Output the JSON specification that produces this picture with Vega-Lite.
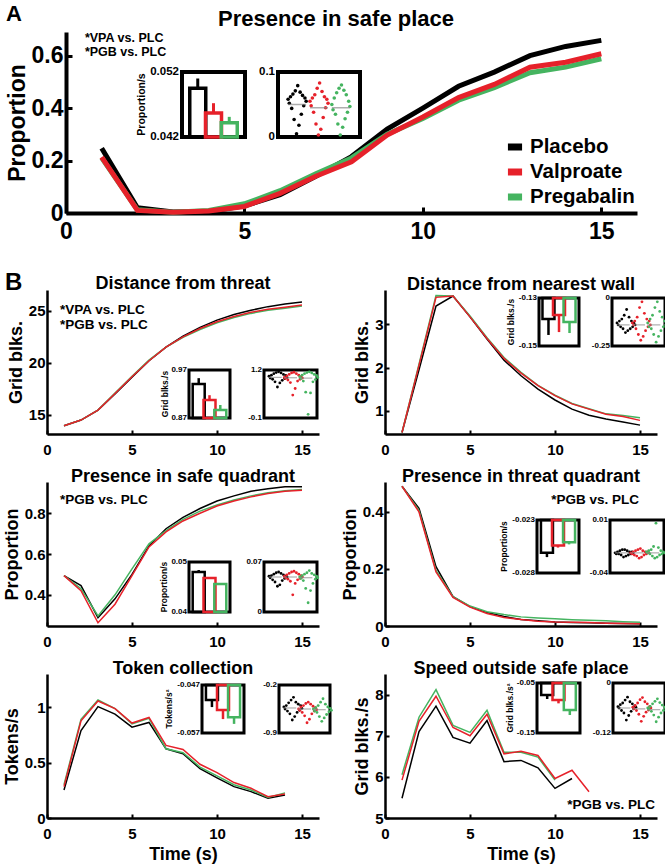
{
"$schema": "https://vega.github.io/schema/vega-lite/v6.json",
"background": "white",
"padding": {"left": 3, "top": 2, "right": 2, "bottom": 5},
"config": {
 "font": "Liberation Sans",
 "view": {"stroke": null},
 "axis": {"grid": false, "domainColor": "black", "domainWidth": 2.5, "tickColor": "black", "tickWidth": 2, "tickSize": -4, "labelColor": "black", "labelFontSize": 15, "labelFontWeight": "bold", "labelFlush": false, "labelOverlap": false, "titleColor": "black", "titleFontSize": 18, "titleFontWeight": "bold"},
 "axisX": {"labelPadding": 12.5, "titlePadding": 4},
 "axisY": {"labelPadding": 6, "titlePadding": 3},
 "title": {"fontSize": 18, "fontWeight": "bold", "color": "black", "offset": -4},
 "text": {"color": "black", "fontWeight": "bold"}
},
"datasets": {
 "lines": [
  {"p":"A","g":"Placebo","t":1,"v":0.247},{"p":"A","g":"Placebo","t":2,"v":0.02},{"p":"A","g":"Placebo","t":3,"v":0.004},{"p":"A","g":"Placebo","t":4,"v":0.006},{"p":"A","g":"Placebo","t":5,"v":0.027},{"p":"A","g":"Placebo","t":6,"v":0.07},{"p":"A","g":"Placebo","t":7,"v":0.14},{"p":"A","g":"Placebo","t":8,"v":0.215},{"p":"A","g":"Placebo","t":9,"v":0.32},{"p":"A","g":"Placebo","t":10,"v":0.4},{"p":"A","g":"Placebo","t":11,"v":0.483},{"p":"A","g":"Placebo","t":12,"v":0.537},{"p":"A","g":"Placebo","t":13,"v":0.6},{"p":"A","g":"Placebo","t":14,"v":0.635},{"p":"A","g":"Placebo","t":15,"v":0.658},
  {"p":"A","g":"Pregabalin","t":1,"v":0.21},{"p":"A","g":"Pregabalin","t":2,"v":0.012},{"p":"A","g":"Pregabalin","t":3,"v":0.003},{"p":"A","g":"Pregabalin","t":4,"v":0.01},{"p":"A","g":"Pregabalin","t":5,"v":0.035},{"p":"A","g":"Pregabalin","t":6,"v":0.085},{"p":"A","g":"Pregabalin","t":7,"v":0.15},{"p":"A","g":"Pregabalin","t":8,"v":0.21},{"p":"A","g":"Pregabalin","t":9,"v":0.3},{"p":"A","g":"Pregabalin","t":10,"v":0.36},{"p":"A","g":"Pregabalin","t":11,"v":0.43},{"p":"A","g":"Pregabalin","t":12,"v":0.478},{"p":"A","g":"Pregabalin","t":13,"v":0.535},{"p":"A","g":"Pregabalin","t":14,"v":0.556},{"p":"A","g":"Pregabalin","t":15,"v":0.588},
  {"p":"A","g":"Valproate","t":1,"v":0.213},{"p":"A","g":"Valproate","t":2,"v":0.01},{"p":"A","g":"Valproate","t":3,"v":0.003},{"p":"A","g":"Valproate","t":4,"v":0.008},{"p":"A","g":"Valproate","t":5,"v":0.025},{"p":"A","g":"Valproate","t":6,"v":0.075},{"p":"A","g":"Valproate","t":7,"v":0.14},{"p":"A","g":"Valproate","t":8,"v":0.195},{"p":"A","g":"Valproate","t":9,"v":0.297},{"p":"A","g":"Valproate","t":10,"v":0.366},{"p":"A","g":"Valproate","t":11,"v":0.44},{"p":"A","g":"Valproate","t":12,"v":0.49},{"p":"A","g":"Valproate","t":13,"v":0.556},{"p":"A","g":"Valproate","t":14,"v":0.575},{"p":"A","g":"Valproate","t":15,"v":0.607},
  {"p":"dt","g":"Placebo","t":1,"v":13.94},{"p":"dt","g":"Placebo","t":2,"v":14.49},{"p":"dt","g":"Placebo","t":3,"v":15.45},{"p":"dt","g":"Placebo","t":4,"v":17.0},{"p":"dt","g":"Placebo","t":5,"v":18.6},{"p":"dt","g":"Placebo","t":6,"v":20.2},{"p":"dt","g":"Placebo","t":7,"v":21.5},{"p":"dt","g":"Placebo","t":8,"v":22.55},{"p":"dt","g":"Placebo","t":9,"v":23.4},{"p":"dt","g":"Placebo","t":10,"v":24.1},{"p":"dt","g":"Placebo","t":11,"v":24.65},{"p":"dt","g":"Placebo","t":12,"v":25.05},{"p":"dt","g":"Placebo","t":13,"v":25.4},{"p":"dt","g":"Placebo","t":14,"v":25.65},{"p":"dt","g":"Placebo","t":15,"v":25.85},
  {"p":"dt","g":"Pregabalin","t":1,"v":13.94},{"p":"dt","g":"Pregabalin","t":2,"v":14.49},{"p":"dt","g":"Pregabalin","t":3,"v":15.45},{"p":"dt","g":"Pregabalin","t":4,"v":17.1},{"p":"dt","g":"Pregabalin","t":5,"v":18.7},{"p":"dt","g":"Pregabalin","t":6,"v":20.25},{"p":"dt","g":"Pregabalin","t":7,"v":21.5},{"p":"dt","g":"Pregabalin","t":8,"v":22.45},{"p":"dt","g":"Pregabalin","t":9,"v":23.2},{"p":"dt","g":"Pregabalin","t":10,"v":23.85},{"p":"dt","g":"Pregabalin","t":11,"v":24.35},{"p":"dt","g":"Pregabalin","t":12,"v":24.75},{"p":"dt","g":"Pregabalin","t":13,"v":25.05},{"p":"dt","g":"Pregabalin","t":14,"v":25.25},{"p":"dt","g":"Pregabalin","t":15,"v":25.45},
  {"p":"dt","g":"Valproate","t":1,"v":13.94},{"p":"dt","g":"Valproate","t":2,"v":14.49},{"p":"dt","g":"Valproate","t":3,"v":15.45},{"p":"dt","g":"Valproate","t":4,"v":17.05},{"p":"dt","g":"Valproate","t":5,"v":18.65},{"p":"dt","g":"Valproate","t":6,"v":20.2},{"p":"dt","g":"Valproate","t":7,"v":21.5},{"p":"dt","g":"Valproate","t":8,"v":22.5},{"p":"dt","g":"Valproate","t":9,"v":23.3},{"p":"dt","g":"Valproate","t":10,"v":23.95},{"p":"dt","g":"Valproate","t":11,"v":24.45},{"p":"dt","g":"Valproate","t":12,"v":24.85},{"p":"dt","g":"Valproate","t":13,"v":25.15},{"p":"dt","g":"Valproate","t":14,"v":25.35},{"p":"dt","g":"Valproate","t":15,"v":25.55},
  {"p":"nw","g":"Placebo","t":1,"v":0.5},{"p":"nw","g":"Placebo","t":2,"v":1.95},{"p":"nw","g":"Placebo","t":3,"v":3.42},{"p":"nw","g":"Placebo","t":4,"v":3.65},{"p":"nw","g":"Placebo","t":5,"v":3.17},{"p":"nw","g":"Placebo","t":6,"v":2.66},{"p":"nw","g":"Placebo","t":7,"v":2.17},{"p":"nw","g":"Placebo","t":8,"v":1.81},{"p":"nw","g":"Placebo","t":9,"v":1.5},{"p":"nw","g":"Placebo","t":10,"v":1.25},{"p":"nw","g":"Placebo","t":11,"v":1.04},{"p":"nw","g":"Placebo","t":12,"v":0.9},{"p":"nw","g":"Placebo","t":13,"v":0.81},{"p":"nw","g":"Placebo","t":14,"v":0.74},{"p":"nw","g":"Placebo","t":15,"v":0.67},
  {"p":"nw","g":"Pregabalin","t":1,"v":0.5},{"p":"nw","g":"Pregabalin","t":2,"v":2.08},{"p":"nw","g":"Pregabalin","t":3,"v":3.66},{"p":"nw","g":"Pregabalin","t":4,"v":3.65},{"p":"nw","g":"Pregabalin","t":5,"v":3.19},{"p":"nw","g":"Pregabalin","t":6,"v":2.69},{"p":"nw","g":"Pregabalin","t":7,"v":2.23},{"p":"nw","g":"Pregabalin","t":8,"v":1.89},{"p":"nw","g":"Pregabalin","t":9,"v":1.59},{"p":"nw","g":"Pregabalin","t":10,"v":1.36},{"p":"nw","g":"Pregabalin","t":11,"v":1.17},{"p":"nw","g":"Pregabalin","t":12,"v":1.05},{"p":"nw","g":"Pregabalin","t":13,"v":0.93},{"p":"nw","g":"Pregabalin","t":14,"v":0.89},{"p":"nw","g":"Pregabalin","t":15,"v":0.84},
  {"p":"nw","g":"Valproate","t":1,"v":0.5},{"p":"nw","g":"Valproate","t":2,"v":2.05},{"p":"nw","g":"Valproate","t":3,"v":3.62},{"p":"nw","g":"Valproate","t":4,"v":3.65},{"p":"nw","g":"Valproate","t":5,"v":3.17},{"p":"nw","g":"Valproate","t":6,"v":2.67},{"p":"nw","g":"Valproate","t":7,"v":2.21},{"p":"nw","g":"Valproate","t":8,"v":1.87},{"p":"nw","g":"Valproate","t":9,"v":1.58},{"p":"nw","g":"Valproate","t":10,"v":1.35},{"p":"nw","g":"Valproate","t":11,"v":1.16},{"p":"nw","g":"Valproate","t":12,"v":1.04},{"p":"nw","g":"Valproate","t":13,"v":0.92},{"p":"nw","g":"Valproate","t":14,"v":0.87},{"p":"nw","g":"Valproate","t":15,"v":0.78},
  {"p":"sq","g":"Placebo","t":1,"v":0.494},{"p":"sq","g":"Placebo","t":2,"v":0.445},{"p":"sq","g":"Placebo","t":3,"v":0.288},{"p":"sq","g":"Placebo","t":4,"v":0.38},{"p":"sq","g":"Placebo","t":5,"v":0.5},{"p":"sq","g":"Placebo","t":6,"v":0.64},{"p":"sq","g":"Placebo","t":7,"v":0.724},{"p":"sq","g":"Placebo","t":8,"v":0.78},{"p":"sq","g":"Placebo","t":9,"v":0.823},{"p":"sq","g":"Placebo","t":10,"v":0.86},{"p":"sq","g":"Placebo","t":11,"v":0.885},{"p":"sq","g":"Placebo","t":12,"v":0.908},{"p":"sq","g":"Placebo","t":13,"v":0.92},{"p":"sq","g":"Placebo","t":14,"v":0.93},{"p":"sq","g":"Placebo","t":15,"v":0.93},
  {"p":"sq","g":"Pregabalin","t":1,"v":0.494},{"p":"sq","g":"Pregabalin","t":2,"v":0.43},{"p":"sq","g":"Pregabalin","t":3,"v":0.296},{"p":"sq","g":"Pregabalin","t":4,"v":0.4},{"p":"sq","g":"Pregabalin","t":5,"v":0.527},{"p":"sq","g":"Pregabalin","t":6,"v":0.65},{"p":"sq","g":"Pregabalin","t":7,"v":0.715},{"p":"sq","g":"Pregabalin","t":8,"v":0.77},{"p":"sq","g":"Pregabalin","t":9,"v":0.81},{"p":"sq","g":"Pregabalin","t":10,"v":0.84},{"p":"sq","g":"Pregabalin","t":11,"v":0.865},{"p":"sq","g":"Pregabalin","t":12,"v":0.885},{"p":"sq","g":"Pregabalin","t":13,"v":0.9},{"p":"sq","g":"Pregabalin","t":14,"v":0.91},{"p":"sq","g":"Pregabalin","t":15,"v":0.916},
  {"p":"sq","g":"Valproate","t":1,"v":0.494},{"p":"sq","g":"Valproate","t":2,"v":0.42},{"p":"sq","g":"Valproate","t":3,"v":0.263},{"p":"sq","g":"Valproate","t":4,"v":0.354},{"p":"sq","g":"Valproate","t":5,"v":0.494},{"p":"sq","g":"Valproate","t":6,"v":0.635},{"p":"sq","g":"Valproate","t":7,"v":0.708},{"p":"sq","g":"Valproate","t":8,"v":0.762},{"p":"sq","g":"Valproate","t":9,"v":0.8},{"p":"sq","g":"Valproate","t":10,"v":0.835},{"p":"sq","g":"Valproate","t":11,"v":0.86},{"p":"sq","g":"Valproate","t":12,"v":0.88},{"p":"sq","g":"Valproate","t":13,"v":0.897},{"p":"sq","g":"Valproate","t":14,"v":0.908},{"p":"sq","g":"Valproate","t":15,"v":0.913},
  {"p":"tq","g":"Placebo","t":1,"v":0.49},{"p":"tq","g":"Placebo","t":2,"v":0.413},{"p":"tq","g":"Placebo","t":3,"v":0.208},{"p":"tq","g":"Placebo","t":4,"v":0.103},{"p":"tq","g":"Placebo","t":5,"v":0.068},{"p":"tq","g":"Placebo","t":6,"v":0.047},{"p":"tq","g":"Placebo","t":7,"v":0.033},{"p":"tq","g":"Placebo","t":8,"v":0.023},{"p":"tq","g":"Placebo","t":9,"v":0.018},{"p":"tq","g":"Placebo","t":10,"v":0.014},{"p":"tq","g":"Placebo","t":11,"v":0.012},{"p":"tq","g":"Placebo","t":12,"v":0.011},{"p":"tq","g":"Placebo","t":13,"v":0.01},{"p":"tq","g":"Placebo","t":14,"v":0.009},{"p":"tq","g":"Placebo","t":15,"v":0.008},
  {"p":"tq","g":"Pregabalin","t":1,"v":0.49},{"p":"tq","g":"Pregabalin","t":2,"v":0.405},{"p":"tq","g":"Pregabalin","t":3,"v":0.195},{"p":"tq","g":"Pregabalin","t":4,"v":0.103},{"p":"tq","g":"Pregabalin","t":5,"v":0.07},{"p":"tq","g":"Pregabalin","t":6,"v":0.05},{"p":"tq","g":"Pregabalin","t":7,"v":0.04},{"p":"tq","g":"Pregabalin","t":8,"v":0.032},{"p":"tq","g":"Pregabalin","t":9,"v":0.028},{"p":"tq","g":"Pregabalin","t":10,"v":0.025},{"p":"tq","g":"Pregabalin","t":11,"v":0.022},{"p":"tq","g":"Pregabalin","t":12,"v":0.02},{"p":"tq","g":"Pregabalin","t":13,"v":0.018},{"p":"tq","g":"Pregabalin","t":14,"v":0.015},{"p":"tq","g":"Pregabalin","t":15,"v":0.013},
  {"p":"tq","g":"Valproate","t":1,"v":0.49},{"p":"tq","g":"Valproate","t":2,"v":0.4},{"p":"tq","g":"Valproate","t":3,"v":0.19},{"p":"tq","g":"Valproate","t":4,"v":0.1},{"p":"tq","g":"Valproate","t":5,"v":0.066},{"p":"tq","g":"Valproate","t":6,"v":0.044},{"p":"tq","g":"Valproate","t":7,"v":0.03},{"p":"tq","g":"Valproate","t":8,"v":0.023},{"p":"tq","g":"Valproate","t":9,"v":0.017},{"p":"tq","g":"Valproate","t":10,"v":0.014},{"p":"tq","g":"Valproate","t":11,"v":0.013},{"p":"tq","g":"Valproate","t":12,"v":0.012},{"p":"tq","g":"Valproate","t":13,"v":0.01},{"p":"tq","g":"Valproate","t":14,"v":0.009},{"p":"tq","g":"Valproate","t":15,"v":0.008},
  {"p":"tk","g":"Placebo","t":1,"v":0.253},{"p":"tk","g":"Placebo","t":2,"v":0.79},{"p":"tk","g":"Placebo","t":3,"v":1.006},{"p":"tk","g":"Placebo","t":4,"v":0.938},{"p":"tk","g":"Placebo","t":5,"v":0.82},{"p":"tk","g":"Placebo","t":6,"v":0.863},{"p":"tk","g":"Placebo","t":7,"v":0.625},{"p":"tk","g":"Placebo","t":8,"v":0.58},{"p":"tk","g":"Placebo","t":9,"v":0.446},{"p":"tk","g":"Placebo","t":10,"v":0.363},{"p":"tk","g":"Placebo","t":11,"v":0.283},{"p":"tk","g":"Placebo","t":12,"v":0.238},{"p":"tk","g":"Placebo","t":13,"v":0.178},{"p":"tk","g":"Placebo","t":14,"v":0.208},
  {"p":"tk","g":"Pregabalin","t":1,"v":0.3},{"p":"tk","g":"Pregabalin","t":2,"v":0.89},{"p":"tk","g":"Pregabalin","t":3,"v":1.065},{"p":"tk","g":"Pregabalin","t":4,"v":0.988},{"p":"tk","g":"Pregabalin","t":5,"v":0.85},{"p":"tk","g":"Pregabalin","t":6,"v":0.9},{"p":"tk","g":"Pregabalin","t":7,"v":0.625},{"p":"tk","g":"Pregabalin","t":8,"v":0.59},{"p":"tk","g":"Pregabalin","t":9,"v":0.46},{"p":"tk","g":"Pregabalin","t":10,"v":0.38},{"p":"tk","g":"Pregabalin","t":11,"v":0.3},{"p":"tk","g":"Pregabalin","t":12,"v":0.253},{"p":"tk","g":"Pregabalin","t":13,"v":0.186},{"p":"tk","g":"Pregabalin","t":14,"v":0.227},
  {"p":"tk","g":"Valproate","t":1,"v":0.283},{"p":"tk","g":"Valproate","t":2,"v":0.878},{"p":"tk","g":"Valproate","t":3,"v":1.056},{"p":"tk","g":"Valproate","t":4,"v":0.988},{"p":"tk","g":"Valproate","t":5,"v":0.857},{"p":"tk","g":"Valproate","t":6,"v":0.908},{"p":"tk","g":"Valproate","t":7,"v":0.655},{"p":"tk","g":"Valproate","t":8,"v":0.619},{"p":"tk","g":"Valproate","t":9,"v":0.485},{"p":"tk","g":"Valproate","t":10,"v":0.41},{"p":"tk","g":"Valproate","t":11,"v":0.32},{"p":"tk","g":"Valproate","t":12,"v":0.268},{"p":"tk","g":"Valproate","t":13,"v":0.193},{"p":"tk","g":"Valproate","t":14,"v":0.217},
  {"p":"sp","g":"Placebo","t":1,"v":5.48},{"p":"sp","g":"Placebo","t":2,"v":7.1},{"p":"sp","g":"Placebo","t":3,"v":7.72},{"p":"sp","g":"Placebo","t":4,"v":6.96},{"p":"sp","g":"Placebo","t":5,"v":6.82},{"p":"sp","g":"Placebo","t":6,"v":7.37},{"p":"sp","g":"Placebo","t":7,"v":6.37},{"p":"sp","g":"Placebo","t":8,"v":6.4},{"p":"sp","g":"Placebo","t":9,"v":6.22},{"p":"sp","g":"Placebo","t":10,"v":5.72},{"p":"sp","g":"Placebo","t":11,"v":5.96},
  {"p":"sp","g":"Pregabalin","t":1,"v":6.05},{"p":"sp","g":"Pregabalin","t":2,"v":7.45},{"p":"sp","g":"Pregabalin","t":3,"v":8.12},{"p":"sp","g":"Pregabalin","t":4,"v":7.25},{"p":"sp","g":"Pregabalin","t":5,"v":7.08},{"p":"sp","g":"Pregabalin","t":6,"v":7.62},{"p":"sp","g":"Pregabalin","t":7,"v":6.6},{"p":"sp","g":"Pregabalin","t":8,"v":6.6},{"p":"sp","g":"Pregabalin","t":9,"v":6.48},{"p":"sp","g":"Pregabalin","t":10,"v":5.92},
  {"p":"sp","g":"Valproate","t":1,"v":5.92},{"p":"sp","g":"Valproate","t":2,"v":7.35},{"p":"sp","g":"Valproate","t":3,"v":7.96},{"p":"sp","g":"Valproate","t":4,"v":7.2},{"p":"sp","g":"Valproate","t":5,"v":7.0},{"p":"sp","g":"Valproate","t":6,"v":7.52},{"p":"sp","g":"Valproate","t":7,"v":6.56},{"p":"sp","g":"Valproate","t":8,"v":6.62},{"p":"sp","g":"Valproate","t":9,"v":6.52},{"p":"sp","g":"Valproate","t":10,"v":5.96},{"p":"sp","g":"Valproate","t":11,"v":6.16},{"p":"sp","g":"Valproate","t":12,"v":5.64}
 ],
 "bars": [
  {"p":"A","g":"Placebo","k":1,"v":0.0495,"e":0.051},{"p":"A","g":"Valproate","k":2,"v":0.0457,"e":0.0472},{"p":"A","g":"Pregabalin","k":3,"v":0.0442,"e":0.0451},
  {"p":"dt","g":"Placebo","k":1,"v":0.9408,"e":0.953},{"p":"dt","g":"Valproate","k":2,"v":0.9075,"e":0.9175},{"p":"dt","g":"Pregabalin","k":3,"v":0.8867,"e":0.8971},
  {"p":"nw","g":"Placebo","k":1,"v":-0.1388,"e":-0.1454},{"p":"nw","g":"Valproate","k":2,"v":-0.1371,"e":-0.1442},{"p":"nw","g":"Pregabalin","k":3,"v":-0.14,"e":-0.1446},
  {"p":"sq","g":"Placebo","k":1,"v":0.048,"e":0.0484},{"p":"sq","g":"Valproate","k":2,"v":0.0468,"e":0.047},{"p":"sq","g":"Pregabalin","k":3,"v":0.0456,"e":0.0458},
  {"p":"tq","g":"Placebo","k":1,"v":-0.0261,"e":-0.0265},{"p":"tq","g":"Valproate","k":2,"v":-0.0254,"e":-0.0256},{"p":"tq","g":"Pregabalin","k":3,"v":-0.0251,"e":-0.0253},
  {"p":"tk","g":"Placebo","k":1,"v":-0.0501,"e":-0.0516},{"p":"tk","g":"Valproate","k":2,"v":-0.0522,"e":-0.0541},{"p":"tk","g":"Pregabalin","k":3,"v":-0.0537,"e":-0.0551},
  {"p":"sp","g":"Placebo","k":1,"v":-0.074,"e":-0.082},{"p":"sp","g":"Valproate","k":2,"v":-0.084,"e":-0.0907},{"p":"sp","g":"Pregabalin","k":3,"v":-0.104,"e":-0.114}
 ],
 "means": [
  {"p":"A","g":"Placebo","m":0.05},{"p":"A","g":"Valproate","m":0.045},{"p":"A","g":"Pregabalin","m":0.045},
  {"p":"dt","g":"Placebo","m":1.0},{"p":"dt","g":"Valproate","m":0.99},{"p":"dt","g":"Pregabalin","m":0.98},
  {"p":"nw","g":"Placebo","m":-0.14},{"p":"nw","g":"Valproate","m":-0.14},{"p":"nw","g":"Pregabalin","m":-0.14},
  {"p":"sq","g":"Placebo","m":0.049},{"p":"sq","g":"Valproate","m":0.049},{"p":"sq","g":"Pregabalin","m":0.048},
  {"p":"tq","g":"Placebo","m":-0.021},{"p":"tq","g":"Valproate","m":-0.021},{"p":"tq","g":"Pregabalin","m":-0.021},
  {"p":"tk","g":"Placebo","m":-0.535},{"p":"tk","g":"Valproate","m":-0.55},{"p":"tk","g":"Pregabalin","m":-0.56},
  {"p":"sp","g":"Placebo","m":-0.06},{"p":"sp","g":"Valproate","m":-0.062},{"p":"sp","g":"Pregabalin","m":-0.064}
 ],
 "pts": [
  {"p":"A","g":"Placebo","i":1,"v":0.058},{"p":"A","g":"Placebo","i":2,"v":0.052},{"p":"A","g":"Placebo","i":3,"v":0.062},{"p":"A","g":"Placebo","i":4,"v":0.044},{"p":"A","g":"Placebo","i":5,"v":0.066},{"p":"A","g":"Placebo","i":6,"v":0.027},{"p":"A","g":"Placebo","i":7,"v":0.071},{"p":"A","g":"Placebo","i":8,"v":0.005},{"p":"A","g":"Placebo","i":9,"v":0.079},{"p":"A","g":"Placebo","i":10,"v":0.018},{"p":"A","g":"Placebo","i":11,"v":0.069},{"p":"A","g":"Placebo","i":12,"v":0.035},{"p":"A","g":"Placebo","i":13,"v":0.064},{"p":"A","g":"Placebo","i":14,"v":0.048},{"p":"A","g":"Placebo","i":15,"v":0.06},{"p":"A","g":"Placebo","i":16,"v":0.055},
  {"p":"A","g":"Valproate","i":1,"v":0.055},{"p":"A","g":"Valproate","i":2,"v":0.048},{"p":"A","g":"Valproate","i":3,"v":0.06},{"p":"A","g":"Valproate","i":4,"v":0.038},{"p":"A","g":"Valproate","i":5,"v":0.065},{"p":"A","g":"Valproate","i":6,"v":0.02},{"p":"A","g":"Valproate","i":7,"v":0.075},{"p":"A","g":"Valproate","i":8,"v":0.003},{"p":"A","g":"Valproate","i":9,"v":0.083},{"p":"A","g":"Valproate","i":10,"v":0.012},{"p":"A","g":"Valproate","i":11,"v":0.07},{"p":"A","g":"Valproate","i":12,"v":0.03},{"p":"A","g":"Valproate","i":13,"v":0.062},{"p":"A","g":"Valproate","i":14,"v":0.045},{"p":"A","g":"Valproate","i":15,"v":0.058},{"p":"A","g":"Valproate","i":16,"v":0.052},
  {"p":"A","g":"Pregabalin","i":1,"v":0.05},{"p":"A","g":"Pregabalin","i":2,"v":0.042},{"p":"A","g":"Pregabalin","i":3,"v":0.06},{"p":"A","g":"Pregabalin","i":4,"v":0.035},{"p":"A","g":"Pregabalin","i":5,"v":0.068},{"p":"A","g":"Pregabalin","i":6,"v":0.02},{"p":"A","g":"Pregabalin","i":7,"v":0.075},{"p":"A","g":"Pregabalin","i":8,"v":0.003},{"p":"A","g":"Pregabalin","i":9,"v":0.08},{"p":"A","g":"Pregabalin","i":10,"v":0.015},{"p":"A","g":"Pregabalin","i":11,"v":0.072},{"p":"A","g":"Pregabalin","i":12,"v":0.028},{"p":"A","g":"Pregabalin","i":13,"v":0.065},{"p":"A","g":"Pregabalin","i":14,"v":0.038},{"p":"A","g":"Pregabalin","i":15,"v":0.055},{"p":"A","g":"Pregabalin","i":16,"v":0.047},
  {"p":"dt","g":"Placebo","i":1,"v":1.03},{"p":"dt","g":"Placebo","i":2,"v":0.98},{"p":"dt","g":"Placebo","i":3,"v":1.06},{"p":"dt","g":"Placebo","i":4,"v":0.95},{"p":"dt","g":"Placebo","i":5,"v":1.1},{"p":"dt","g":"Placebo","i":6,"v":0.88},{"p":"dt","g":"Placebo","i":7,"v":1.13},{"p":"dt","g":"Placebo","i":8,"v":0.74},{"p":"dt","g":"Placebo","i":9,"v":1.15},{"p":"dt","g":"Placebo","i":10,"v":0.85},{"p":"dt","g":"Placebo","i":11,"v":1.12},{"p":"dt","g":"Placebo","i":12,"v":0.92},{"p":"dt","g":"Placebo","i":13,"v":1.08},{"p":"dt","g":"Placebo","i":14,"v":0.97},{"p":"dt","g":"Placebo","i":15,"v":1.05},{"p":"dt","g":"Placebo","i":16,"v":1.0},
  {"p":"dt","g":"Valproate","i":1,"v":1.0},{"p":"dt","g":"Valproate","i":2,"v":0.97},{"p":"dt","g":"Valproate","i":3,"v":1.04},{"p":"dt","g":"Valproate","i":4,"v":0.93},{"p":"dt","g":"Valproate","i":5,"v":1.08},{"p":"dt","g":"Valproate","i":6,"v":0.86},{"p":"dt","g":"Valproate","i":7,"v":1.12},{"p":"dt","g":"Valproate","i":8,"v":0.52},{"p":"dt","g":"Valproate","i":9,"v":1.14},{"p":"dt","g":"Valproate","i":10,"v":0.7},{"p":"dt","g":"Valproate","i":11,"v":1.1},{"p":"dt","g":"Valproate","i":12,"v":0.9},{"p":"dt","g":"Valproate","i":13,"v":1.06},{"p":"dt","g":"Valproate","i":14,"v":0.95},{"p":"dt","g":"Valproate","i":15,"v":1.02},{"p":"dt","g":"Valproate","i":16,"v":0.98},
  {"p":"dt","g":"Pregabalin","i":1,"v":1.02},{"p":"dt","g":"Pregabalin","i":2,"v":0.97},{"p":"dt","g":"Pregabalin","i":3,"v":1.06},{"p":"dt","g":"Pregabalin","i":4,"v":0.9},{"p":"dt","g":"Pregabalin","i":5,"v":1.1},{"p":"dt","g":"Pregabalin","i":6,"v":0.6},{"p":"dt","g":"Pregabalin","i":7,"v":1.13},{"p":"dt","g":"Pregabalin","i":8,"v":0.0},{"p":"dt","g":"Pregabalin","i":9,"v":1.15},{"p":"dt","g":"Pregabalin","i":10,"v":0.58},{"p":"dt","g":"Pregabalin","i":11,"v":1.12},{"p":"dt","g":"Pregabalin","i":12,"v":0.88},{"p":"dt","g":"Pregabalin","i":13,"v":1.08},{"p":"dt","g":"Pregabalin","i":14,"v":0.94},{"p":"dt","g":"Pregabalin","i":15,"v":1.05},{"p":"dt","g":"Pregabalin","i":16,"v":1.0},
  {"p":"nw","g":"Placebo","i":1,"v":-0.13},{"p":"nw","g":"Placebo","i":2,"v":-0.14},{"p":"nw","g":"Placebo","i":3,"v":-0.12},{"p":"nw","g":"Placebo","i":4,"v":-0.15},{"p":"nw","g":"Placebo","i":5,"v":-0.11},{"p":"nw","g":"Placebo","i":6,"v":-0.16},{"p":"nw","g":"Placebo","i":7,"v":-0.09},{"p":"nw","g":"Placebo","i":8,"v":-0.18},{"p":"nw","g":"Placebo","i":9,"v":-0.06},{"p":"nw","g":"Placebo","i":10,"v":-0.17},{"p":"nw","g":"Placebo","i":11,"v":-0.1},{"p":"nw","g":"Placebo","i":12,"v":-0.16},{"p":"nw","g":"Placebo","i":13,"v":-0.12},{"p":"nw","g":"Placebo","i":14,"v":-0.15},{"p":"nw","g":"Placebo","i":15,"v":-0.13},{"p":"nw","g":"Placebo","i":16,"v":-0.14},
  {"p":"nw","g":"Valproate","i":1,"v":-0.13},{"p":"nw","g":"Valproate","i":2,"v":-0.14},{"p":"nw","g":"Valproate","i":3,"v":-0.12},{"p":"nw","g":"Valproate","i":4,"v":-0.16},{"p":"nw","g":"Valproate","i":5,"v":-0.1},{"p":"nw","g":"Valproate","i":6,"v":-0.19},{"p":"nw","g":"Valproate","i":7,"v":-0.05},{"p":"nw","g":"Valproate","i":8,"v":-0.22},{"p":"nw","g":"Valproate","i":9,"v":-0.02},{"p":"nw","g":"Valproate","i":10,"v":-0.2},{"p":"nw","g":"Valproate","i":11,"v":-0.08},{"p":"nw","g":"Valproate","i":12,"v":-0.17},{"p":"nw","g":"Valproate","i":13,"v":-0.11},{"p":"nw","g":"Valproate","i":14,"v":-0.15},{"p":"nw","g":"Valproate","i":15,"v":-0.12},{"p":"nw","g":"Valproate","i":16,"v":-0.14},
  {"p":"nw","g":"Pregabalin","i":1,"v":-0.13},{"p":"nw","g":"Pregabalin","i":2,"v":-0.15},{"p":"nw","g":"Pregabalin","i":3,"v":-0.11},{"p":"nw","g":"Pregabalin","i":4,"v":-0.16},{"p":"nw","g":"Pregabalin","i":5,"v":-0.09},{"p":"nw","g":"Pregabalin","i":6,"v":-0.19},{"p":"nw","g":"Pregabalin","i":7,"v":-0.05},{"p":"nw","g":"Pregabalin","i":8,"v":-0.23},{"p":"nw","g":"Pregabalin","i":9,"v":-0.02},{"p":"nw","g":"Pregabalin","i":10,"v":-0.2},{"p":"nw","g":"Pregabalin","i":11,"v":-0.07},{"p":"nw","g":"Pregabalin","i":12,"v":-0.17},{"p":"nw","g":"Pregabalin","i":13,"v":-0.1},{"p":"nw","g":"Pregabalin","i":14,"v":-0.15},{"p":"nw","g":"Pregabalin","i":15,"v":-0.12},{"p":"nw","g":"Pregabalin","i":16,"v":-0.14},
  {"p":"sq","g":"Placebo","i":1,"v":0.05},{"p":"sq","g":"Placebo","i":2,"v":0.048},{"p":"sq","g":"Placebo","i":3,"v":0.051},{"p":"sq","g":"Placebo","i":4,"v":0.045},{"p":"sq","g":"Placebo","i":5,"v":0.053},{"p":"sq","g":"Placebo","i":6,"v":0.042},{"p":"sq","g":"Placebo","i":7,"v":0.055},{"p":"sq","g":"Placebo","i":8,"v":0.036},{"p":"sq","g":"Placebo","i":9,"v":0.056},{"p":"sq","g":"Placebo","i":10,"v":0.038},{"p":"sq","g":"Placebo","i":11,"v":0.054},{"p":"sq","g":"Placebo","i":12,"v":0.044},{"p":"sq","g":"Placebo","i":13,"v":0.052},{"p":"sq","g":"Placebo","i":14,"v":0.047},{"p":"sq","g":"Placebo","i":15,"v":0.05},{"p":"sq","g":"Placebo","i":16,"v":0.049},
  {"p":"sq","g":"Valproate","i":1,"v":0.05},{"p":"sq","g":"Valproate","i":2,"v":0.048},{"p":"sq","g":"Valproate","i":3,"v":0.052},{"p":"sq","g":"Valproate","i":4,"v":0.046},{"p":"sq","g":"Valproate","i":5,"v":0.054},{"p":"sq","g":"Valproate","i":6,"v":0.043},{"p":"sq","g":"Valproate","i":7,"v":0.056},{"p":"sq","g":"Valproate","i":8,"v":0.024},{"p":"sq","g":"Valproate","i":9,"v":0.057},{"p":"sq","g":"Valproate","i":10,"v":0.04},{"p":"sq","g":"Valproate","i":11,"v":0.055},{"p":"sq","g":"Valproate","i":12,"v":0.045},{"p":"sq","g":"Valproate","i":13,"v":0.053},{"p":"sq","g":"Valproate","i":14,"v":0.047},{"p":"sq","g":"Valproate","i":15,"v":0.051},{"p":"sq","g":"Valproate","i":16,"v":0.049},
  {"p":"sq","g":"Pregabalin","i":1,"v":0.049},{"p":"sq","g":"Pregabalin","i":2,"v":0.047},{"p":"sq","g":"Pregabalin","i":3,"v":0.051},{"p":"sq","g":"Pregabalin","i":4,"v":0.044},{"p":"sq","g":"Pregabalin","i":5,"v":0.053},{"p":"sq","g":"Pregabalin","i":6,"v":0.033},{"p":"sq","g":"Pregabalin","i":7,"v":0.055},{"p":"sq","g":"Pregabalin","i":8,"v":0.013},{"p":"sq","g":"Pregabalin","i":9,"v":0.058},{"p":"sq","g":"Pregabalin","i":10,"v":0.03},{"p":"sq","g":"Pregabalin","i":11,"v":0.054},{"p":"sq","g":"Pregabalin","i":12,"v":0.04},{"p":"sq","g":"Pregabalin","i":13,"v":0.052},{"p":"sq","g":"Pregabalin","i":14,"v":0.046},{"p":"sq","g":"Pregabalin","i":15,"v":0.05},{"p":"sq","g":"Pregabalin","i":16,"v":0.048},
  {"p":"tq","g":"Placebo","i":1,"v":-0.021},{"p":"tq","g":"Placebo","i":2,"v":-0.022},{"p":"tq","g":"Placebo","i":3,"v":-0.02},{"p":"tq","g":"Placebo","i":4,"v":-0.022},{"p":"tq","g":"Placebo","i":5,"v":-0.019},{"p":"tq","g":"Placebo","i":6,"v":-0.023},{"p":"tq","g":"Placebo","i":7,"v":-0.018},{"p":"tq","g":"Placebo","i":8,"v":-0.025},{"p":"tq","g":"Placebo","i":9,"v":-0.018},{"p":"tq","g":"Placebo","i":10,"v":-0.024},{"p":"tq","g":"Placebo","i":11,"v":-0.019},{"p":"tq","g":"Placebo","i":12,"v":-0.023},{"p":"tq","g":"Placebo","i":13,"v":-0.02},{"p":"tq","g":"Placebo","i":14,"v":-0.022},{"p":"tq","g":"Placebo","i":15,"v":-0.02},{"p":"tq","g":"Placebo","i":16,"v":-0.021},
  {"p":"tq","g":"Valproate","i":1,"v":-0.021},{"p":"tq","g":"Valproate","i":2,"v":-0.022},{"p":"tq","g":"Valproate","i":3,"v":-0.02},{"p":"tq","g":"Valproate","i":4,"v":-0.023},{"p":"tq","g":"Valproate","i":5,"v":-0.019},{"p":"tq","g":"Valproate","i":6,"v":-0.024},{"p":"tq","g":"Valproate","i":7,"v":-0.018},{"p":"tq","g":"Valproate","i":8,"v":-0.026},{"p":"tq","g":"Valproate","i":9,"v":-0.017},{"p":"tq","g":"Valproate","i":10,"v":-0.025},{"p":"tq","g":"Valproate","i":11,"v":-0.019},{"p":"tq","g":"Valproate","i":12,"v":-0.023},{"p":"tq","g":"Valproate","i":13,"v":-0.02},{"p":"tq","g":"Valproate","i":14,"v":-0.022},{"p":"tq","g":"Valproate","i":15,"v":-0.02},{"p":"tq","g":"Valproate","i":16,"v":-0.021},
  {"p":"tq","g":"Pregabalin","i":1,"v":-0.02},{"p":"tq","g":"Pregabalin","i":2,"v":-0.021},{"p":"tq","g":"Pregabalin","i":3,"v":-0.019},{"p":"tq","g":"Pregabalin","i":4,"v":-0.022},{"p":"tq","g":"Pregabalin","i":5,"v":-0.018},{"p":"tq","g":"Pregabalin","i":6,"v":-0.024},{"p":"tq","g":"Pregabalin","i":7,"v":-0.015},{"p":"tq","g":"Pregabalin","i":8,"v":-0.026},{"p":"tq","g":"Pregabalin","i":9,"v":0.007},{"p":"tq","g":"Pregabalin","i":10,"v":-0.025},{"p":"tq","g":"Pregabalin","i":11,"v":-0.016},{"p":"tq","g":"Pregabalin","i":12,"v":-0.023},{"p":"tq","g":"Pregabalin","i":13,"v":-0.019},{"p":"tq","g":"Pregabalin","i":14,"v":-0.022},{"p":"tq","g":"Pregabalin","i":15,"v":-0.02},{"p":"tq","g":"Pregabalin","i":16,"v":-0.021},
  {"p":"tk","g":"Placebo","i":1,"v":-0.52},{"p":"tk","g":"Placebo","i":2,"v":-0.55},{"p":"tk","g":"Placebo","i":3,"v":-0.5},{"p":"tk","g":"Placebo","i":4,"v":-0.58},{"p":"tk","g":"Placebo","i":5,"v":-0.46},{"p":"tk","g":"Placebo","i":6,"v":-0.62},{"p":"tk","g":"Placebo","i":7,"v":-0.42},{"p":"tk","g":"Placebo","i":8,"v":-0.71},{"p":"tk","g":"Placebo","i":9,"v":-0.38},{"p":"tk","g":"Placebo","i":10,"v":-0.66},{"p":"tk","g":"Placebo","i":11,"v":-0.45},{"p":"tk","g":"Placebo","i":12,"v":-0.6},{"p":"tk","g":"Placebo","i":13,"v":-0.48},{"p":"tk","g":"Placebo","i":14,"v":-0.57},{"p":"tk","g":"Placebo","i":15,"v":-0.5},{"p":"tk","g":"Placebo","i":16,"v":-0.54},
  {"p":"tk","g":"Valproate","i":1,"v":-0.55},{"p":"tk","g":"Valproate","i":2,"v":-0.57},{"p":"tk","g":"Valproate","i":3,"v":-0.52},{"p":"tk","g":"Valproate","i":4,"v":-0.6},{"p":"tk","g":"Valproate","i":5,"v":-0.5},{"p":"tk","g":"Valproate","i":6,"v":-0.65},{"p":"tk","g":"Valproate","i":7,"v":-0.47},{"p":"tk","g":"Valproate","i":8,"v":-0.75},{"p":"tk","g":"Valproate","i":9,"v":-0.45},{"p":"tk","g":"Valproate","i":10,"v":-0.7},{"p":"tk","g":"Valproate","i":11,"v":-0.48},{"p":"tk","g":"Valproate","i":12,"v":-0.62},{"p":"tk","g":"Valproate","i":13,"v":-0.51},{"p":"tk","g":"Valproate","i":14,"v":-0.58},{"p":"tk","g":"Valproate","i":15,"v":-0.53},{"p":"tk","g":"Valproate","i":16,"v":-0.56},
  {"p":"tk","g":"Pregabalin","i":1,"v":-0.55},{"p":"tk","g":"Pregabalin","i":2,"v":-0.58},{"p":"tk","g":"Pregabalin","i":3,"v":-0.53},{"p":"tk","g":"Pregabalin","i":4,"v":-0.6},{"p":"tk","g":"Pregabalin","i":5,"v":-0.5},{"p":"tk","g":"Pregabalin","i":6,"v":-0.66},{"p":"tk","g":"Pregabalin","i":7,"v":-0.45},{"p":"tk","g":"Pregabalin","i":8,"v":-0.73},{"p":"tk","g":"Pregabalin","i":9,"v":-0.4},{"p":"tk","g":"Pregabalin","i":10,"v":-0.68},{"p":"tk","g":"Pregabalin","i":11,"v":-0.48},{"p":"tk","g":"Pregabalin","i":12,"v":-0.63},{"p":"tk","g":"Pregabalin","i":13,"v":-0.52},{"p":"tk","g":"Pregabalin","i":14,"v":-0.59},{"p":"tk","g":"Pregabalin","i":15,"v":-0.54},{"p":"tk","g":"Pregabalin","i":16,"v":-0.57},
  {"p":"sp","g":"Placebo","i":1,"v":-0.057},{"p":"sp","g":"Placebo","i":2,"v":-0.06},{"p":"sp","g":"Placebo","i":3,"v":-0.052},{"p":"sp","g":"Placebo","i":4,"v":-0.066},{"p":"sp","g":"Placebo","i":5,"v":-0.048},{"p":"sp","g":"Placebo","i":6,"v":-0.072},{"p":"sp","g":"Placebo","i":7,"v":-0.041},{"p":"sp","g":"Placebo","i":8,"v":-0.089},{"p":"sp","g":"Placebo","i":9,"v":-0.034},{"p":"sp","g":"Placebo","i":10,"v":-0.078},{"p":"sp","g":"Placebo","i":11,"v":-0.045},{"p":"sp","g":"Placebo","i":12,"v":-0.068},{"p":"sp","g":"Placebo","i":13,"v":-0.05},{"p":"sp","g":"Placebo","i":14,"v":-0.062},{"p":"sp","g":"Placebo","i":15,"v":-0.055},{"p":"sp","g":"Placebo","i":16,"v":-0.058},
  {"p":"sp","g":"Valproate","i":1,"v":-0.058},{"p":"sp","g":"Valproate","i":2,"v":-0.062},{"p":"sp","g":"Valproate","i":3,"v":-0.054},{"p":"sp","g":"Valproate","i":4,"v":-0.066},{"p":"sp","g":"Valproate","i":5,"v":-0.048},{"p":"sp","g":"Valproate","i":6,"v":-0.075},{"p":"sp","g":"Valproate","i":7,"v":-0.04},{"p":"sp","g":"Valproate","i":8,"v":-0.092},{"p":"sp","g":"Valproate","i":9,"v":-0.035},{"p":"sp","g":"Valproate","i":10,"v":-0.08},{"p":"sp","g":"Valproate","i":11,"v":-0.045},{"p":"sp","g":"Valproate","i":12,"v":-0.07},{"p":"sp","g":"Valproate","i":13,"v":-0.05},{"p":"sp","g":"Valproate","i":14,"v":-0.065},{"p":"sp","g":"Valproate","i":15,"v":-0.056},{"p":"sp","g":"Valproate","i":16,"v":-0.06},
  {"p":"sp","g":"Pregabalin","i":1,"v":-0.06},{"p":"sp","g":"Pregabalin","i":2,"v":-0.063},{"p":"sp","g":"Pregabalin","i":3,"v":-0.056},{"p":"sp","g":"Pregabalin","i":4,"v":-0.068},{"p":"sp","g":"Pregabalin","i":5,"v":-0.05},{"p":"sp","g":"Pregabalin","i":6,"v":-0.077},{"p":"sp","g":"Pregabalin","i":7,"v":-0.044},{"p":"sp","g":"Pregabalin","i":8,"v":-0.093},{"p":"sp","g":"Pregabalin","i":9,"v":-0.038},{"p":"sp","g":"Pregabalin","i":10,"v":-0.082},{"p":"sp","g":"Pregabalin","i":11,"v":-0.047},{"p":"sp","g":"Pregabalin","i":12,"v":-0.072},{"p":"sp","g":"Pregabalin","i":13,"v":-0.053},{"p":"sp","g":"Pregabalin","i":14,"v":-0.066},{"p":"sp","g":"Pregabalin","i":15,"v":-0.058},{"p":"sp","g":"Pregabalin","i":16,"v":-0.061}
 ]
},
"spacing": 28,
"resolve": {"scale": {"color": "independent"}, "legend": {"color": "independent"}},
"vconcat": [
 {
  "width": 590, "height": 181,
  "title": {"text": "Presence in safe place", "fontSize": 22, "offset": -28, "dx": -6},
  "resolve": {"scale": {"x": "independent", "y": "independent"}},
  "layer": [
   {"layer": [
    {"data": {"name": "lines"}, "transform": [{"filter": "datum.p == 'A'"}], "mark": {"type": "line", "strokeWidth": 5},
     "encoding": {
      "x": {"field": "t", "type": "quantitative", "scale": {"domain": [0, 16], "range": [19, 590], "nice": false}, "axis": {"values": [0, 5, 10, 15], "title": null, "domainWidth": 4, "tickWidth": 3, "tickSize": -6, "labelFontSize": 23, "labelPadding": 13}},
      "y": {"field": "v", "type": "quantitative", "scale": {"domain": [0, 0.69], "nice": false}, "axis": {"values": [0, 0.2, 0.4, 0.6], "format": "~g", "title": "Proportion", "offset": -19, "domainWidth": 4, "tickWidth": 3, "tickSize": -6, "labelFontSize": 23, "titleFontSize": 23, "labelPadding": 9, "titlePadding": 2}},
      "color": {"field": "g", "type": "nominal", "scale": {"domain": ["Placebo", "Valproate", "Pregabalin"], "range": ["#000000", "#e6212a", "#45b460"]}, "legend": {"orient": "bottom-right", "offset": 2, "title": null, "symbolType": "stroke", "symbolStrokeWidth": 7, "symbolSize": 200, "labelFontSize": 20.5, "labelFontWeight": "bold", "labelColor": "black", "rowPadding": -3, "labelOffset": 4, "padding": 0}}
     }},
    {"data": {"values": [{}]}, "mark": {"type": "text", "align": "left", "baseline": "middle", "fontSize": 12.5, "lineHeight": 14}, "encoding": {"x": {"datum": 0.53}, "y": {"datum": 0.667}, "text": {"value": ["*VPA vs. PLC", "*PGB vs. PLC"]}}},
    {"data": {"values": [{}]}, "mark": {"type": "text", "align": "left", "baseline": "alphabetic", "fontSize": 22}, "encoding": {"x": {"datum": -1.68}, "y": {"datum": 0.733}, "text": {"value": "A"}}}
   ]},
   {"layer": [
    {"data": {"values": [{}]}, "mark": {"type": "rect", "fill": "white", "stroke": "black", "strokeWidth": 4}, "encoding": {"x": {"datum": 0, "type": "quantitative", "scale": {"domain": [0, 4], "range": [130, 203], "nice": false, "zero": false}, "axis": null}, "x2": {"datum": 4}, "y": {"datum": 0.042, "type": "quantitative", "scale": {"domain": [0.042, 0.052], "range": [105, 40], "nice": false, "zero": false}, "axis": null}, "y2": {"datum": 0.052}}},
    {"data": {"name": "bars"}, "transform": [{"filter": "datum.p == 'A'"}], "mark": {"type": "bar", "orient": "vertical", "width": 16, "filled": false, "strokeWidth": 3.5}, "encoding": {"x": {"field": "k", "type": "quantitative"}, "y": {"field": "v", "type": "quantitative"}, "y2": {"datum": 0.042}, "color": {"field": "g", "type": "nominal", "scale": {"domain": ["Placebo", "Valproate", "Pregabalin"], "range": ["#000000", "#e6212a", "#45b460"]}, "legend": null}}},
    {"data": {"name": "bars"}, "transform": [{"filter": "datum.p == 'A'"}], "mark": {"type": "rule", "strokeWidth": 3}, "encoding": {"x": {"field": "k", "type": "quantitative"}, "y": {"field": "v", "type": "quantitative"}, "y2": {"field": "e"}, "color": {"field": "g", "type": "nominal", "scale": {"domain": ["Placebo", "Valproate", "Pregabalin"], "range": ["#000000", "#e6212a", "#45b460"]}, "legend": null}}},
    {"data": {"values": [{}]}, "mark": {"type": "text", "align": "right", "baseline": "middle", "dx": -3, "fontSize": 11.5}, "encoding": {"x": {"datum": 0}, "y": {"datum": 0.052}, "text": {"value": "0.052"}}},
    {"data": {"values": [{}]}, "mark": {"type": "text", "align": "right", "baseline": "middle", "dx": -3, "fontSize": 11.5}, "encoding": {"x": {"datum": 0}, "y": {"datum": 0.042}, "text": {"value": "0.042"}}},
    {"data": {"values": [{}]}, "mark": {"type": "text", "angle": 270, "align": "center", "baseline": "middle", "dy": -40, "fontSize": 10.5}, "encoding": {"x": {"datum": 0}, "y": {"datum": 0.047}, "text": {"value": "Proportion/s"}}}
   ]},
   {"resolve": {"scale": {"x": "independent"}}, "layer": [
    {"layer": [
     {"data": {"values": [{}]}, "mark": {"type": "rect", "fill": "white", "stroke": "black", "strokeWidth": 4}, "encoding": {"x": {"datum": 0, "type": "quantitative", "scale": {"domain": [0, 1], "range": [231, 313], "nice": false, "zero": false}, "axis": null}, "x2": {"datum": 1}, "y": {"datum": 0, "type": "quantitative", "scale": {"domain": [0, 0.1], "range": [105, 40], "nice": false, "zero": false}, "axis": null}, "y2": {"datum": 0.1}}},
     {"data": {"values": [{}]}, "mark": {"type": "text", "align": "right", "baseline": "middle", "dx": -3, "fontSize": 11.5}, "encoding": {"x": {"datum": 0}, "y": {"datum": 0.1}, "text": {"value": "0.1"}}},
     {"data": {"values": [{}]}, "mark": {"type": "text", "align": "right", "baseline": "middle", "dx": -3, "fontSize": 11.5}, "encoding": {"x": {"datum": 0}, "y": {"datum": 0}, "text": {"value": "0"}}}
    ]},
    {"layer": [
     {"data": {"name": "pts"}, "transform": [{"filter": "datum.p == 'A'"}], "mark": {"type": "circle", "size": 13, "opacity": 1}, "encoding": {"x": {"field": "g", "type": "nominal", "scale": {"domain": ["Placebo", "Valproate", "Pregabalin"], "range": [240.5, 303.5], "paddingInner": 0.12, "paddingOuter": 0}, "axis": null}, "xOffset": {"field": "i", "type": "nominal"}, "y": {"field": "v", "type": "quantitative"}, "color": {"field": "g", "type": "nominal", "scale": {"domain": ["Placebo", "Valproate", "Pregabalin"], "range": ["#000000", "#e6212a", "#45b460"]}, "legend": null}}},
     {"data": {"name": "means"}, "transform": [{"filter": "datum.p == 'A'"}], "mark": {"type": "tick", "orient": "horizontal", "size": 18, "thickness": 1.5, "color": "#8a8a8a"}, "encoding": {"x": {"field": "g", "type": "nominal"}, "y": {"field": "m", "type": "quantitative"}}}
    ]}
   ]}
  ]
 },
 {
  "columns": 2,
  "spacing": {"row": 48, "column": 66},
  "bounds": "flush",
  "concat": [
   {
    "width": 272, "height": 144,
    "title": {"text": "Distance from threat", "offset": -22},
    "resolve": {"scale": {"x": "independent", "y": "independent"}},
    "layer": [
     {"layer": [
      {"data": {"name": "lines"}, "transform": [{"filter": "datum.p == 'dt'"}], "mark": {"type": "line", "strokeWidth": 1.5},
       "encoding": {
        "x": {"field": "t", "type": "quantitative", "scale": {"domain": [0, 16], "nice": false}, "axis": {"values": [0, 5, 10, 15], "title": null}},
        "y": {"field": "v", "type": "quantitative", "scale": {"domain": [13.15, 27], "nice": false, "zero": false}, "axis": {"values": [15, 20, 25], "title": "Grid blks."}},
        "color": {"field": "g", "type": "nominal", "scale": {"domain": ["Placebo", "Valproate", "Pregabalin"], "range": ["#000000", "#e6212a", "#45b460"]}, "legend": null}}},
      {"data": {"values": [{}]}, "mark": {"type": "text", "align": "left", "baseline": "middle", "fontSize": 13.5, "lineHeight": 15}, "encoding": {"x": {"datum": 0.76}, "y": {"datum": 25.06}, "text": {"value": ["*VPA vs. PLC", "*PGB vs. PLC"]}}},
      {"data": {"values": [{}]}, "mark": {"type": "text", "align": "left", "baseline": "alphabetic", "fontSize": 24}, "encoding": {"x": {"datum": -2.47}, "y": {"datum": 27.0}, "text": {"value": "B"}}}
     ]},
     {"layer": [
      {"data": {"values": [{}]}, "mark": {"type": "rect", "fill": "white", "stroke": "black", "strokeWidth": 3}, "encoding": {"x": {"datum": 0.1, "type": "quantitative", "scale": {"domain": [0.1, 3.9], "range": [137, 188], "nice": false, "zero": false}, "axis": null}, "x2": {"datum": 3.9}, "y": {"datum": 0.87, "type": "quantitative", "scale": {"domain": [0.87, 0.97], "range": [128, 80], "nice": false, "zero": false}, "axis": null}, "y2": {"datum": 0.97}}},
      {"data": {"name": "bars"}, "transform": [{"filter": "datum.p == 'dt'"}], "mark": {"type": "bar", "orient": "vertical", "width": 12, "filled": false, "strokeWidth": 2.5}, "encoding": {"x": {"field": "k", "type": "quantitative"}, "y": {"field": "v", "type": "quantitative"}, "y2": {"datum": 0.87}, "color": {"field": "g", "type": "nominal", "scale": {"domain": ["Placebo", "Valproate", "Pregabalin"], "range": ["#000000", "#e6212a", "#45b460"]}, "legend": null}}},
      {"data": {"name": "bars"}, "transform": [{"filter": "datum.p == 'dt'"}], "mark": {"type": "rule", "strokeWidth": 2.5}, "encoding": {"x": {"field": "k", "type": "quantitative"}, "y": {"field": "v", "type": "quantitative"}, "y2": {"field": "e"}, "color": {"field": "g", "type": "nominal", "scale": {"domain": ["Placebo", "Valproate", "Pregabalin"], "range": ["#000000", "#e6212a", "#45b460"]}, "legend": null}}},
      {"data": {"values": [{}]}, "mark": {"type": "text", "align": "right", "baseline": "middle", "dx": -2, "fontSize": 8}, "encoding": {"x": {"datum": 0.1}, "y": {"datum": 0.97}, "text": {"value": "0.97"}}},
      {"data": {"values": [{}]}, "mark": {"type": "text", "align": "right", "baseline": "middle", "dx": -2, "fontSize": 8}, "encoding": {"x": {"datum": 0.1}, "y": {"datum": 0.87}, "text": {"value": "0.87"}}},
      {"data": {"values": [{}]}, "mark": {"type": "text", "angle": 270, "align": "center", "baseline": "middle", "dy": -24.5, "fontSize": 8.5}, "encoding": {"x": {"datum": 0.1}, "y": {"datum": 0.92}, "text": {"value": "Grid blks./s"}}}
     ]},
     {"resolve": {"scale": {"x": "independent"}}, "layer": [
      {"layer": [
       {"data": {"values": [{}]}, "mark": {"type": "rect", "fill": "white", "stroke": "black", "strokeWidth": 3}, "encoding": {"x": {"datum": 0, "type": "quantitative", "scale": {"domain": [0, 1], "range": [217, 270], "nice": false, "zero": false}, "axis": null}, "x2": {"datum": 1}, "y": {"datum": -0.1, "type": "quantitative", "scale": {"domain": [-0.1, 1.2], "range": [128, 80], "nice": false, "zero": false}, "axis": null}, "y2": {"datum": 1.2}}},
       {"data": {"values": [{}]}, "mark": {"type": "text", "align": "right", "baseline": "middle", "dx": -2, "fontSize": 8}, "encoding": {"x": {"datum": 0}, "y": {"datum": 1.2}, "text": {"value": "1.2"}}},
       {"data": {"values": [{}]}, "mark": {"type": "text", "align": "right", "baseline": "middle", "dx": -2, "fontSize": 8}, "encoding": {"x": {"datum": 0}, "y": {"datum": -0.1}, "text": {"value": "-0.1"}}}
      ]},
      {"layer": [
       {"data": {"name": "pts"}, "transform": [{"filter": "datum.p == 'dt'"}], "mark": {"type": "circle", "size": 8, "opacity": 1}, "encoding": {"x": {"field": "g", "type": "nominal", "scale": {"domain": ["Placebo", "Valproate", "Pregabalin"], "range": [221.4, 265.6], "paddingInner": 0.12, "paddingOuter": 0}, "axis": null}, "xOffset": {"field": "i", "type": "nominal"}, "y": {"field": "v", "type": "quantitative"}, "color": {"field": "g", "type": "nominal", "scale": {"domain": ["Placebo", "Valproate", "Pregabalin"], "range": ["#000000", "#e6212a", "#45b460"]}, "legend": null}}},
       {"data": {"name": "means"}, "transform": [{"filter": "datum.p == 'dt'"}], "mark": {"type": "tick", "orient": "horizontal", "size": 13, "thickness": 1.2, "color": "#8a8a8a"}, "encoding": {"x": {"field": "g", "type": "nominal"}, "y": {"field": "m", "type": "quantitative"}}}
      ]}
     ]}
    ]
   },
   {
    "width": 272, "height": 144,
    "title": {"text": "Distance from nearest wall"},
    "resolve": {"scale": {"x": "independent", "y": "independent"}},
    "layer": [
     {"layer": [
      {"data": {"name": "lines"}, "transform": [{"filter": "datum.p == 'nw'"}], "mark": {"type": "line", "strokeWidth": 1.5},
       "encoding": {
        "x": {"field": "t", "type": "quantitative", "scale": {"domain": [0, 16], "nice": false}, "axis": {"values": [0, 5, 10, 15], "title": null}},
        "y": {"field": "v", "type": "quantitative", "scale": {"domain": [0.465, 3.79], "nice": false, "zero": false}, "axis": {"values": [1, 2, 3], "title": "Grid blks."}},
        "color": {"field": "g", "type": "nominal", "scale": {"domain": ["Placebo", "Valproate", "Pregabalin"], "range": ["#000000", "#e6212a", "#45b460"]}, "legend": null}}}
     ]},
     {"layer": [
      {"data": {"values": [{}]}, "mark": {"type": "rect", "fill": "white", "stroke": "black", "strokeWidth": 3}, "encoding": {"x": {"datum": 0.1, "type": "quantitative", "scale": {"domain": [0.1, 3.9], "range": [149, 199], "nice": false, "zero": false}, "axis": null}, "x2": {"datum": 3.9}, "y": {"datum": -0.15, "type": "quantitative", "scale": {"domain": [-0.15, -0.13], "range": [56, 8], "nice": false, "zero": false}, "axis": null}, "y2": {"datum": -0.13}}},
      {"data": {"name": "bars"}, "transform": [{"filter": "datum.p == 'nw'"}], "mark": {"type": "bar", "orient": "vertical", "width": 12, "filled": false, "strokeWidth": 2.5}, "encoding": {"x": {"field": "k", "type": "quantitative"}, "y": {"field": "v", "type": "quantitative"}, "y2": {"datum": -0.13}, "color": {"field": "g", "type": "nominal", "scale": {"domain": ["Placebo", "Valproate", "Pregabalin"], "range": ["#000000", "#e6212a", "#45b460"]}, "legend": null}}},
      {"data": {"name": "bars"}, "transform": [{"filter": "datum.p == 'nw'"}], "mark": {"type": "rule", "strokeWidth": 2.5}, "encoding": {"x": {"field": "k", "type": "quantitative"}, "y": {"field": "v", "type": "quantitative"}, "y2": {"field": "e"}, "color": {"field": "g", "type": "nominal", "scale": {"domain": ["Placebo", "Valproate", "Pregabalin"], "range": ["#000000", "#e6212a", "#45b460"]}, "legend": null}}},
      {"data": {"values": [{}]}, "mark": {"type": "text", "align": "right", "baseline": "middle", "dx": -2, "fontSize": 8}, "encoding": {"x": {"datum": 0.1}, "y": {"datum": -0.13}, "text": {"value": "-0.13"}}},
      {"data": {"values": [{}]}, "mark": {"type": "text", "align": "right", "baseline": "middle", "dx": -2, "fontSize": 8}, "encoding": {"x": {"datum": 0.1}, "y": {"datum": -0.15}, "text": {"value": "-0.15"}}},
      {"data": {"values": [{}]}, "mark": {"type": "text", "angle": 270, "align": "center", "baseline": "middle", "dy": -28.5, "fontSize": 8.5}, "encoding": {"x": {"datum": 0.1}, "y": {"datum": -0.14}, "text": {"value": "Grid blks./s"}}}
     ]},
     {"resolve": {"scale": {"x": "independent"}}, "layer": [
      {"layer": [
       {"data": {"values": [{}]}, "mark": {"type": "rect", "fill": "white", "stroke": "black", "strokeWidth": 3}, "encoding": {"x": {"datum": 0, "type": "quantitative", "scale": {"domain": [0, 1], "range": [227, 280], "nice": false, "zero": false}, "axis": null}, "x2": {"datum": 1}, "y": {"datum": -0.25, "type": "quantitative", "scale": {"domain": [-0.25, 0], "range": [56, 8], "nice": false, "zero": false}, "axis": null}, "y2": {"datum": 0}}},
       {"data": {"values": [{}]}, "mark": {"type": "text", "align": "right", "baseline": "middle", "dx": -2, "fontSize": 8}, "encoding": {"x": {"datum": 0}, "y": {"datum": 0}, "text": {"value": "0"}}},
       {"data": {"values": [{}]}, "mark": {"type": "text", "align": "right", "baseline": "middle", "dx": -2, "fontSize": 8}, "encoding": {"x": {"datum": 0}, "y": {"datum": -0.25}, "text": {"value": "-0.25"}}}
      ]},
      {"layer": [
       {"data": {"name": "pts"}, "transform": [{"filter": "datum.p == 'nw'"}], "mark": {"type": "circle", "size": 8, "opacity": 1}, "encoding": {"x": {"field": "g", "type": "nominal", "scale": {"domain": ["Placebo", "Valproate", "Pregabalin"], "range": [231.4, 275.6], "paddingInner": 0.12, "paddingOuter": 0}, "axis": null}, "xOffset": {"field": "i", "type": "nominal"}, "y": {"field": "v", "type": "quantitative"}, "color": {"field": "g", "type": "nominal", "scale": {"domain": ["Placebo", "Valproate", "Pregabalin"], "range": ["#000000", "#e6212a", "#45b460"]}, "legend": null}}},
       {"data": {"name": "means"}, "transform": [{"filter": "datum.p == 'nw'"}], "mark": {"type": "tick", "orient": "horizontal", "size": 13, "thickness": 1.2, "color": "#8a8a8a"}, "encoding": {"x": {"field": "g", "type": "nominal"}, "y": {"field": "m", "type": "quantitative"}}}
      ]}
     ]}
    ]
   },
   {
    "width": 272, "height": 144,
    "title": {"text": "Presence in safe quadrant"},
    "resolve": {"scale": {"x": "independent", "y": "independent"}},
    "layer": [
     {"layer": [
      {"data": {"name": "lines"}, "transform": [{"filter": "datum.p == 'sq'"}], "mark": {"type": "line", "strokeWidth": 1.5},
       "encoding": {
        "x": {"field": "t", "type": "quantitative", "scale": {"domain": [0, 16], "nice": false}, "axis": {"values": [0, 5, 10, 15], "title": null}},
        "y": {"field": "v", "type": "quantitative", "scale": {"domain": [0.247, 0.953], "nice": false, "zero": false}, "axis": {"values": [0.4, 0.6, 0.8], "title": "Proportion"}},
        "color": {"field": "g", "type": "nominal", "scale": {"domain": ["Placebo", "Valproate", "Pregabalin"], "range": ["#000000", "#e6212a", "#45b460"]}, "legend": null}}},
      {"data": {"values": [{}]}, "mark": {"type": "text", "align": "left", "baseline": "middle", "fontSize": 13.5}, "encoding": {"x": {"datum": 0.76}, "y": {"datum": 0.864}, "text": {"value": "*PGB vs. PLC"}}}
     ]},
     {"layer": [
      {"data": {"values": [{}]}, "mark": {"type": "rect", "fill": "white", "stroke": "black", "strokeWidth": 3}, "encoding": {"x": {"datum": 0.1, "type": "quantitative", "scale": {"domain": [0.1, 3.9], "range": [137, 188], "nice": false, "zero": false}, "axis": null}, "x2": {"datum": 3.9}, "y": {"datum": 0.04, "type": "quantitative", "scale": {"domain": [0.04, 0.05], "range": [130, 80], "nice": false, "zero": false}, "axis": null}, "y2": {"datum": 0.05}}},
      {"data": {"name": "bars"}, "transform": [{"filter": "datum.p == 'sq'"}], "mark": {"type": "bar", "orient": "vertical", "width": 12, "filled": false, "strokeWidth": 2.5}, "encoding": {"x": {"field": "k", "type": "quantitative"}, "y": {"field": "v", "type": "quantitative"}, "y2": {"datum": 0.04}, "color": {"field": "g", "type": "nominal", "scale": {"domain": ["Placebo", "Valproate", "Pregabalin"], "range": ["#000000", "#e6212a", "#45b460"]}, "legend": null}}},
      {"data": {"name": "bars"}, "transform": [{"filter": "datum.p == 'sq'"}], "mark": {"type": "rule", "strokeWidth": 2.5}, "encoding": {"x": {"field": "k", "type": "quantitative"}, "y": {"field": "v", "type": "quantitative"}, "y2": {"field": "e"}, "color": {"field": "g", "type": "nominal", "scale": {"domain": ["Placebo", "Valproate", "Pregabalin"], "range": ["#000000", "#e6212a", "#45b460"]}, "legend": null}}},
      {"data": {"values": [{}]}, "mark": {"type": "text", "align": "right", "baseline": "middle", "dx": -2, "fontSize": 8}, "encoding": {"x": {"datum": 0.1}, "y": {"datum": 0.05}, "text": {"value": "0.05"}}},
      {"data": {"values": [{}]}, "mark": {"type": "text", "align": "right", "baseline": "middle", "dx": -2, "fontSize": 8}, "encoding": {"x": {"datum": 0.1}, "y": {"datum": 0.04}, "text": {"value": "0.04"}}},
      {"data": {"values": [{}]}, "mark": {"type": "text", "angle": 270, "align": "center", "baseline": "middle", "dy": -25, "fontSize": 8.5}, "encoding": {"x": {"datum": 0.1}, "y": {"datum": 0.045}, "text": {"value": "Proportion/s"}}}
     ]},
     {"resolve": {"scale": {"x": "independent"}}, "layer": [
      {"layer": [
       {"data": {"values": [{}]}, "mark": {"type": "rect", "fill": "white", "stroke": "black", "strokeWidth": 3}, "encoding": {"x": {"datum": 0, "type": "quantitative", "scale": {"domain": [0, 1], "range": [217, 270], "nice": false, "zero": false}, "axis": null}, "x2": {"datum": 1}, "y": {"datum": 0, "type": "quantitative", "scale": {"domain": [0, 0.07], "range": [130, 80], "nice": false, "zero": false}, "axis": null}, "y2": {"datum": 0.07}}},
       {"data": {"values": [{}]}, "mark": {"type": "text", "align": "right", "baseline": "middle", "dx": -2, "fontSize": 8}, "encoding": {"x": {"datum": 0}, "y": {"datum": 0.07}, "text": {"value": "0.07"}}},
       {"data": {"values": [{}]}, "mark": {"type": "text", "align": "right", "baseline": "middle", "dx": -2, "fontSize": 8}, "encoding": {"x": {"datum": 0}, "y": {"datum": 0}, "text": {"value": "0"}}}
      ]},
      {"layer": [
       {"data": {"name": "pts"}, "transform": [{"filter": "datum.p == 'sq'"}], "mark": {"type": "circle", "size": 8, "opacity": 1}, "encoding": {"x": {"field": "g", "type": "nominal", "scale": {"domain": ["Placebo", "Valproate", "Pregabalin"], "range": [221.4, 265.6], "paddingInner": 0.12, "paddingOuter": 0}, "axis": null}, "xOffset": {"field": "i", "type": "nominal"}, "y": {"field": "v", "type": "quantitative"}, "color": {"field": "g", "type": "nominal", "scale": {"domain": ["Placebo", "Valproate", "Pregabalin"], "range": ["#000000", "#e6212a", "#45b460"]}, "legend": null}}},
       {"data": {"name": "means"}, "transform": [{"filter": "datum.p == 'sq'"}], "mark": {"type": "tick", "orient": "horizontal", "size": 13, "thickness": 1.2, "color": "#8a8a8a"}, "encoding": {"x": {"field": "g", "type": "nominal"}, "y": {"field": "m", "type": "quantitative"}}}
      ]}
     ]}
    ]
   },
   {
    "width": 272, "height": 144,
    "title": {"text": "Presence in threat quadrant"},
    "resolve": {"scale": {"x": "independent", "y": "independent"}},
    "layer": [
     {"layer": [
      {"data": {"name": "lines"}, "transform": [{"filter": "datum.p == 'tq'"}], "mark": {"type": "line", "strokeWidth": 1.5},
       "encoding": {
        "x": {"field": "t", "type": "quantitative", "scale": {"domain": [0, 16], "nice": false}, "axis": {"values": [0, 5, 10, 15], "title": null}},
        "y": {"field": "v", "type": "quantitative", "scale": {"domain": [0, 0.505], "nice": false, "zero": false}, "axis": {"values": [0, 0.1, 0.2, 0.3, 0.4], "format": "~g", "title": "Proportion"}},
        "color": {"field": "g", "type": "nominal", "scale": {"domain": ["Placebo", "Valproate", "Pregabalin"], "range": ["#000000", "#e6212a", "#45b460"]}, "legend": null}}},
      {"data": {"values": [{}]}, "mark": {"type": "text", "align": "right", "baseline": "middle", "fontSize": 13.5}, "encoding": {"x": {"datum": 14.94}, "y": {"datum": 0.442}, "text": {"value": "*PGB vs. PLC"}}}
     ]},
     {"layer": [
      {"data": {"values": [{}]}, "mark": {"type": "rect", "fill": "white", "stroke": "black", "strokeWidth": 3}, "encoding": {"x": {"datum": 0.1, "type": "quantitative", "scale": {"domain": [0.1, 3.9], "range": [147, 199], "nice": false, "zero": false}, "axis": null}, "x2": {"datum": 3.9}, "y": {"datum": -0.028, "type": "quantitative", "scale": {"domain": [-0.028, -0.023], "range": [91, 38], "nice": false, "zero": false}, "axis": null}, "y2": {"datum": -0.023}}},
      {"data": {"name": "bars"}, "transform": [{"filter": "datum.p == 'tq'"}], "mark": {"type": "bar", "orient": "vertical", "width": 12, "filled": false, "strokeWidth": 2.5}, "encoding": {"x": {"field": "k", "type": "quantitative"}, "y": {"field": "v", "type": "quantitative"}, "y2": {"datum": -0.023}, "color": {"field": "g", "type": "nominal", "scale": {"domain": ["Placebo", "Valproate", "Pregabalin"], "range": ["#000000", "#e6212a", "#45b460"]}, "legend": null}}},
      {"data": {"name": "bars"}, "transform": [{"filter": "datum.p == 'tq'"}], "mark": {"type": "rule", "strokeWidth": 2.5}, "encoding": {"x": {"field": "k", "type": "quantitative"}, "y": {"field": "v", "type": "quantitative"}, "y2": {"field": "e"}, "color": {"field": "g", "type": "nominal", "scale": {"domain": ["Placebo", "Valproate", "Pregabalin"], "range": ["#000000", "#e6212a", "#45b460"]}, "legend": null}}},
      {"data": {"values": [{}]}, "mark": {"type": "text", "align": "right", "baseline": "middle", "dx": -2, "fontSize": 8}, "encoding": {"x": {"datum": 0.1}, "y": {"datum": -0.023}, "text": {"value": "-0.023"}}},
      {"data": {"values": [{}]}, "mark": {"type": "text", "align": "right", "baseline": "middle", "dx": -2, "fontSize": 8}, "encoding": {"x": {"datum": 0.1}, "y": {"datum": -0.028}, "text": {"value": "-0.028"}}},
      {"data": {"values": [{}]}, "mark": {"type": "text", "angle": 270, "align": "center", "baseline": "middle", "dy": -33, "fontSize": 8.5}, "encoding": {"x": {"datum": 0.1}, "y": {"datum": -0.0255}, "text": {"value": "Proportion/s"}}}
     ]},
     {"resolve": {"scale": {"x": "independent"}}, "layer": [
      {"layer": [
       {"data": {"values": [{}]}, "mark": {"type": "rect", "fill": "white", "stroke": "black", "strokeWidth": 3}, "encoding": {"x": {"datum": 0, "type": "quantitative", "scale": {"domain": [0, 1], "range": [225, 279], "nice": false, "zero": false}, "axis": null}, "x2": {"datum": 1}, "y": {"datum": -0.04, "type": "quantitative", "scale": {"domain": [-0.04, 0.01], "range": [91, 38], "nice": false, "zero": false}, "axis": null}, "y2": {"datum": 0.01}}},
       {"data": {"values": [{}]}, "mark": {"type": "text", "align": "right", "baseline": "middle", "dx": -2, "fontSize": 8}, "encoding": {"x": {"datum": 0}, "y": {"datum": 0.01}, "text": {"value": "0.01"}}},
       {"data": {"values": [{}]}, "mark": {"type": "text", "align": "right", "baseline": "middle", "dx": -2, "fontSize": 8}, "encoding": {"x": {"datum": 0}, "y": {"datum": -0.04}, "text": {"value": "-0.04"}}}
      ]},
      {"layer": [
       {"data": {"name": "pts"}, "transform": [{"filter": "datum.p == 'tq'"}], "mark": {"type": "circle", "size": 8, "opacity": 1}, "encoding": {"x": {"field": "g", "type": "nominal", "scale": {"domain": ["Placebo", "Valproate", "Pregabalin"], "range": [229.5, 274.5], "paddingInner": 0.12, "paddingOuter": 0}, "axis": null}, "xOffset": {"field": "i", "type": "nominal"}, "y": {"field": "v", "type": "quantitative"}, "color": {"field": "g", "type": "nominal", "scale": {"domain": ["Placebo", "Valproate", "Pregabalin"], "range": ["#000000", "#e6212a", "#45b460"]}, "legend": null}}},
       {"data": {"name": "means"}, "transform": [{"filter": "datum.p == 'tq'"}], "mark": {"type": "tick", "orient": "horizontal", "size": 13, "thickness": 1.2, "color": "#8a8a8a"}, "encoding": {"x": {"field": "g", "type": "nominal"}, "y": {"field": "m", "type": "quantitative"}}}
      ]}
     ]}
    ]
   },
   {
    "width": 272, "height": 144,
    "title": {"text": "Token collection"},
    "resolve": {"scale": {"x": "independent", "y": "independent"}},
    "layer": [
     {"layer": [
      {"data": {"name": "lines"}, "transform": [{"filter": "datum.p == 'tk'"}], "mark": {"type": "line", "strokeWidth": 1.5},
       "encoding": {
        "x": {"field": "t", "type": "quantitative", "scale": {"domain": [0, 16], "nice": false}, "axis": {"values": [0, 5, 10, 15], "title": "Time (s)"}},
        "y": {"field": "v", "type": "quantitative", "scale": {"domain": [0, 1.3], "nice": false, "zero": false}, "axis": {"values": [0, 0.5, 1], "format": "~g", "title": "Tokens/s"}},
        "color": {"field": "g", "type": "nominal", "scale": {"domain": ["Placebo", "Valproate", "Pregabalin"], "range": ["#000000", "#e6212a", "#45b460"]}, "legend": null}}}
     ]},
     {"layer": [
      {"data": {"values": [{}]}, "mark": {"type": "rect", "fill": "white", "stroke": "black", "strokeWidth": 3}, "encoding": {"x": {"datum": 0.1, "type": "quantitative", "scale": {"domain": [0.1, 3.9], "range": [150, 202], "nice": false, "zero": false}, "axis": null}, "x2": {"datum": 3.9}, "y": {"datum": -0.057, "type": "quantitative", "scale": {"domain": [-0.057, -0.047], "range": [59, 11], "nice": false, "zero": false}, "axis": null}, "y2": {"datum": -0.047}}},
      {"data": {"name": "bars"}, "transform": [{"filter": "datum.p == 'tk'"}], "mark": {"type": "bar", "orient": "vertical", "width": 12, "filled": false, "strokeWidth": 2.5}, "encoding": {"x": {"field": "k", "type": "quantitative"}, "y": {"field": "v", "type": "quantitative"}, "y2": {"datum": -0.047}, "color": {"field": "g", "type": "nominal", "scale": {"domain": ["Placebo", "Valproate", "Pregabalin"], "range": ["#000000", "#e6212a", "#45b460"]}, "legend": null}}},
      {"data": {"name": "bars"}, "transform": [{"filter": "datum.p == 'tk'"}], "mark": {"type": "rule", "strokeWidth": 2.5}, "encoding": {"x": {"field": "k", "type": "quantitative"}, "y": {"field": "v", "type": "quantitative"}, "y2": {"field": "e"}, "color": {"field": "g", "type": "nominal", "scale": {"domain": ["Placebo", "Valproate", "Pregabalin"], "range": ["#000000", "#e6212a", "#45b460"]}, "legend": null}}},
      {"data": {"values": [{}]}, "mark": {"type": "text", "align": "right", "baseline": "middle", "dx": -2, "fontSize": 8}, "encoding": {"x": {"datum": 0.1}, "y": {"datum": -0.047}, "text": {"value": "-0.047"}}},
      {"data": {"values": [{}]}, "mark": {"type": "text", "align": "right", "baseline": "middle", "dx": -2, "fontSize": 8}, "encoding": {"x": {"datum": 0.1}, "y": {"datum": -0.057}, "text": {"value": "-0.057"}}},
      {"data": {"values": [{}]}, "mark": {"type": "text", "angle": 270, "align": "center", "baseline": "middle", "dy": -33, "fontSize": 8.5}, "encoding": {"x": {"datum": 0.1}, "y": {"datum": -0.052}, "text": {"value": "Tokens/s²"}}}
     ]},
     {"resolve": {"scale": {"x": "independent"}}, "layer": [
      {"layer": [
       {"data": {"values": [{}]}, "mark": {"type": "rect", "fill": "white", "stroke": "black", "strokeWidth": 3}, "encoding": {"x": {"datum": 0, "type": "quantitative", "scale": {"domain": [0, 1], "range": [232, 283], "nice": false, "zero": false}, "axis": null}, "x2": {"datum": 1}, "y": {"datum": -0.9, "type": "quantitative", "scale": {"domain": [-0.9, -0.2], "range": [59, 11], "nice": false, "zero": false}, "axis": null}, "y2": {"datum": -0.2}}},
       {"data": {"values": [{}]}, "mark": {"type": "text", "align": "right", "baseline": "middle", "dx": -2, "fontSize": 8}, "encoding": {"x": {"datum": 0}, "y": {"datum": -0.2}, "text": {"value": "-0.2"}}},
       {"data": {"values": [{}]}, "mark": {"type": "text", "align": "right", "baseline": "middle", "dx": -2, "fontSize": 8}, "encoding": {"x": {"datum": 0}, "y": {"datum": -0.9}, "text": {"value": "-0.9"}}}
      ]},
      {"layer": [
       {"data": {"name": "pts"}, "transform": [{"filter": "datum.p == 'tk'"}], "mark": {"type": "circle", "size": 8, "opacity": 1}, "encoding": {"x": {"field": "g", "type": "nominal", "scale": {"domain": ["Placebo", "Valproate", "Pregabalin"], "range": [236.25, 278.75], "paddingInner": 0.12, "paddingOuter": 0}, "axis": null}, "xOffset": {"field": "i", "type": "nominal"}, "y": {"field": "v", "type": "quantitative"}, "color": {"field": "g", "type": "nominal", "scale": {"domain": ["Placebo", "Valproate", "Pregabalin"], "range": ["#000000", "#e6212a", "#45b460"]}, "legend": null}}},
       {"data": {"name": "means"}, "transform": [{"filter": "datum.p == 'tk'"}], "mark": {"type": "tick", "orient": "horizontal", "size": 13, "thickness": 1.2, "color": "#8a8a8a"}, "encoding": {"x": {"field": "g", "type": "nominal"}, "y": {"field": "m", "type": "quantitative"}}}
      ]}
     ]}
    ]
   },
   {
    "width": 272, "height": 144,
    "title": {"text": "Speed outside safe place"},
    "resolve": {"scale": {"x": "independent", "y": "independent"}},
    "layer": [
     {"layer": [
      {"data": {"name": "lines"}, "transform": [{"filter": "datum.p == 'sp'"}], "mark": {"type": "line", "strokeWidth": 1.5},
       "encoding": {
        "x": {"field": "t", "type": "quantitative", "scale": {"domain": [0, 16], "nice": false}, "axis": {"values": [0, 5, 10, 15], "title": "Time (s)"}},
        "y": {"field": "v", "type": "quantitative", "scale": {"domain": [5, 8.5], "nice": false, "zero": false}, "axis": {"values": [5, 6, 7, 8], "title": "Grid blks./s"}},
        "color": {"field": "g", "type": "nominal", "scale": {"domain": ["Placebo", "Valproate", "Pregabalin"], "range": ["#000000", "#e6212a", "#45b460"]}, "legend": null}}},
      {"data": {"values": [{}]}, "mark": {"type": "text", "align": "right", "baseline": "middle", "fontSize": 13.5}, "encoding": {"x": {"datum": 15.88}, "y": {"datum": 5.31}, "text": {"value": "*PGB vs. PLC"}}}
     ]},
     {"layer": [
      {"data": {"values": [{}]}, "mark": {"type": "rect", "fill": "white", "stroke": "black", "strokeWidth": 3}, "encoding": {"x": {"datum": 0.1, "type": "quantitative", "scale": {"domain": [0.1, 3.9], "range": [147, 200], "nice": false, "zero": false}, "axis": null}, "x2": {"datum": 3.9}, "y": {"datum": -0.15, "type": "quantitative", "scale": {"domain": [-0.15, -0.05], "range": [59, 9], "nice": false, "zero": false}, "axis": null}, "y2": {"datum": -0.05}}},
      {"data": {"name": "bars"}, "transform": [{"filter": "datum.p == 'sp'"}], "mark": {"type": "bar", "orient": "vertical", "width": 12, "filled": false, "strokeWidth": 2.5}, "encoding": {"x": {"field": "k", "type": "quantitative"}, "y": {"field": "v", "type": "quantitative"}, "y2": {"datum": -0.05}, "color": {"field": "g", "type": "nominal", "scale": {"domain": ["Placebo", "Valproate", "Pregabalin"], "range": ["#000000", "#e6212a", "#45b460"]}, "legend": null}}},
      {"data": {"name": "bars"}, "transform": [{"filter": "datum.p == 'sp'"}], "mark": {"type": "rule", "strokeWidth": 2.5}, "encoding": {"x": {"field": "k", "type": "quantitative"}, "y": {"field": "v", "type": "quantitative"}, "y2": {"field": "e"}, "color": {"field": "g", "type": "nominal", "scale": {"domain": ["Placebo", "Valproate", "Pregabalin"], "range": ["#000000", "#e6212a", "#45b460"]}, "legend": null}}},
      {"data": {"values": [{}]}, "mark": {"type": "text", "align": "right", "baseline": "middle", "dx": -2, "fontSize": 8}, "encoding": {"x": {"datum": 0.1}, "y": {"datum": -0.05}, "text": {"value": "-0.05"}}},
      {"data": {"values": [{}]}, "mark": {"type": "text", "align": "right", "baseline": "middle", "dx": -2, "fontSize": 8}, "encoding": {"x": {"datum": 0.1}, "y": {"datum": -0.15}, "text": {"value": "-0.15"}}},
      {"data": {"values": [{}]}, "mark": {"type": "text", "angle": 270, "align": "center", "baseline": "middle", "dy": -27, "fontSize": 8.5}, "encoding": {"x": {"datum": 0.1}, "y": {"datum": -0.1}, "text": {"value": "Grid blks./s²"}}}
     ]},
     {"resolve": {"scale": {"x": "independent"}}, "layer": [
      {"layer": [
       {"data": {"values": [{}]}, "mark": {"type": "rect", "fill": "white", "stroke": "black", "strokeWidth": 3}, "encoding": {"x": {"datum": 0, "type": "quantitative", "scale": {"domain": [0, 1], "range": [228, 280], "nice": false, "zero": false}, "axis": null}, "x2": {"datum": 1}, "y": {"datum": -0.12, "type": "quantitative", "scale": {"domain": [-0.12, 0], "range": [59, 9], "nice": false, "zero": false}, "axis": null}, "y2": {"datum": 0}}},
       {"data": {"values": [{}]}, "mark": {"type": "text", "align": "right", "baseline": "middle", "dx": -2, "fontSize": 8}, "encoding": {"x": {"datum": 0}, "y": {"datum": 0}, "text": {"value": "0"}}},
       {"data": {"values": [{}]}, "mark": {"type": "text", "align": "right", "baseline": "middle", "dx": -2, "fontSize": 8}, "encoding": {"x": {"datum": 0}, "y": {"datum": -0.12}, "text": {"value": "-0.12"}}}
      ]},
      {"layer": [
       {"data": {"name": "pts"}, "transform": [{"filter": "datum.p == 'sp'"}], "mark": {"type": "circle", "size": 8, "opacity": 1}, "encoding": {"x": {"field": "g", "type": "nominal", "scale": {"domain": ["Placebo", "Valproate", "Pregabalin"], "range": [232.3, 275.3], "paddingInner": 0.12, "paddingOuter": 0}, "axis": null}, "xOffset": {"field": "i", "type": "nominal"}, "y": {"field": "v", "type": "quantitative"}, "color": {"field": "g", "type": "nominal", "scale": {"domain": ["Placebo", "Valproate", "Pregabalin"], "range": ["#000000", "#e6212a", "#45b460"]}, "legend": null}}},
       {"data": {"name": "means"}, "transform": [{"filter": "datum.p == 'sp'"}], "mark": {"type": "tick", "orient": "horizontal", "size": 13, "thickness": 1.2, "color": "#8a8a8a"}, "encoding": {"x": {"field": "g", "type": "nominal"}, "y": {"field": "m", "type": "quantitative"}}}
      ]}
     ]}
    ]
   }
  ]
 }
]
}
